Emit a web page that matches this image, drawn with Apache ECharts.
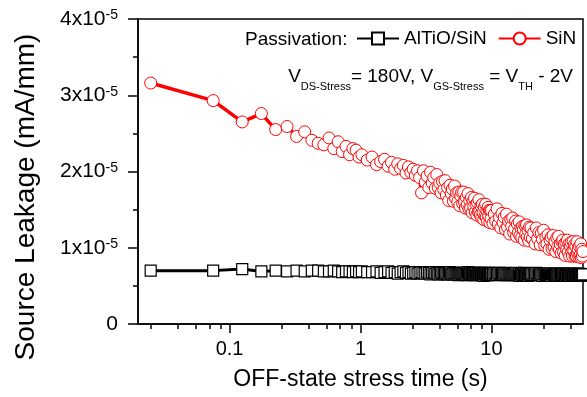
<!DOCTYPE html>
<html><head><meta charset="utf-8">
<script src="https://cdn.jsdelivr.net/npm/echarts@6/dist/echarts.min.js"></script>
<style>html,body{margin:0;padding:0;background:#fff}#c{width:587px;height:397px}</style>
</head><body><div id="c"></div>
<script>
const FONT = '"Liberation Sans", Arial, Helvetica, sans-serif';

// OFF-state stress time (s)
const timeS = [
  0.025,0.075,0.125,0.175,0.225,0.275,0.325,0.375,0.425,0.475,0.525,0.575,0.625,0.675,0.725,0.775,0.825,0.875,0.925,0.975,
  1.025,1.125,1.225,1.325,1.425,1.525,1.625,1.725,1.825,1.925,2.025,2.125,2.225,2.325,2.425,2.525,2.625,2.725,2.825,2.925,
  3.025,3.125,3.225,3.325,3.425,3.525,3.625,3.725,3.825,3.925,4.025,4.125,4.225,4.325,4.425,4.525,4.625,4.725,4.825,4.925,
  5.025,5.125,5.225,5.325,5.425,5.525,5.625,5.725,5.825,5.925,6.025,6.125,6.225,6.325,6.425,6.525,6.625,6.725,6.825,6.925,
  7.025,7.125,7.225,7.325,7.425,7.525,7.625,7.725,7.825,7.925,8.025,8.125,8.225,8.325,8.425,8.525,8.625,8.725,8.825,8.925,
  9.025,9.125,9.225,9.325,9.425,9.525,9.625,9.725,9.825,9.925,
  10.025,10.275,10.525,10.775,11.025,11.275,11.525,11.775,12.025,12.275,12.525,12.775,13.025,13.275,13.525,13.775,14.025,14.275,14.525,14.775,
  15.025,15.275,15.525,15.775,16.025,16.275,16.525,16.775,17.025,17.275,17.525,17.775,18.025,18.275,18.525,18.775,19.025,19.275,19.525,19.775,
  20.025,20.525,21.025,21.525,22.025,22.525,23.025,23.525,24.025,24.525,25.025,25.525,26.025,26.525,27.025,27.525,28.025,28.525,29.025,29.525,
  30.025,30.525,31.025,31.525,32.025,32.525,33.025,33.525,34.025,34.525,35.025,35.525,36.025,36.525,37.025,37.525,38.025,38.525,39.025,39.525,
  40.025,40.525,41.025,41.525,42.025,42.525,43.025,43.525,44.025,44.525,45.025,45.525,46.025,46.525,47.025,47.525,48.025,48.525,49.025,49.525,
  49.975
];

// Source leakage, in units of 1e-5 mA/mm
const altioSinLeak = [
  0.70,0.70,0.72,0.69,0.70,0.69,0.70,0.69,0.70,0.70,0.69,0.69,0.70,0.69,0.68,0.69,0.69,0.68,0.69,0.68,
  0.69,0.68,0.68,0.69,0.67,0.68,0.69,0.67,0.68,0.66,0.68,0.69,0.67,0.68,0.66,0.67,0.68,0.66,0.67,0.68,
  0.67,0.66,0.68,0.67,0.65,0.67,0.68,0.66,0.67,0.65,0.66,0.68,0.67,0.65,0.66,0.67,0.65,0.66,0.68,0.66,
  0.65,0.67,0.66,0.65,0.67,0.66,0.64,0.66,0.67,0.65,0.66,0.67,0.65,0.66,0.64,0.66,0.68,0.66,0.65,0.67,
  0.66,0.64,0.65,0.67,0.66,0.65,0.67,0.64,0.66,0.65,0.67,0.66,0.64,0.65,0.67,0.66,0.65,0.63,0.66,0.65,
  0.67,0.65,0.64,0.66,0.65,0.67,0.64,0.66,0.65,0.66,
  0.66,0.65,0.67,0.66,0.64,0.66,0.67,0.65,0.66,0.64,0.65,0.67,0.66,0.64,0.65,0.66,0.64,0.66,0.65,0.64,
  0.66,0.65,0.67,0.64,0.65,0.66,0.63,0.65,0.66,0.64,0.65,0.67,0.65,0.64,0.66,0.65,0.63,0.65,0.66,0.64,
  0.65,0.66,0.64,0.65,0.67,0.65,0.64,0.66,0.65,0.63,0.65,0.66,0.64,0.65,0.66,0.64,0.65,0.63,0.65,0.66,
  0.64,0.65,0.64,0.66,0.65,0.63,0.65,0.64,0.66,0.65,0.64,0.66,0.65,0.63,0.65,0.64,0.66,0.65,0.64,0.63,
  0.65,0.66,0.64,0.65,0.63,0.65,0.64,0.66,0.64,0.65,0.63,0.65,0.64,0.66,0.65,0.64,0.63,0.65,0.64,0.65,
  0.65
];
const sinLeak = [
  3.16,2.93,2.65,2.76,2.55,2.59,2.46,2.52,2.41,2.37,2.35,2.44,2.30,2.39,2.26,2.33,2.22,2.30,2.28,2.19,
  2.22,2.15,2.19,2.09,2.13,2.16,2.07,2.12,2.03,2.10,2.04,2.08,1.98,2.06,1.99,2.03,1.95,2.01,1.92,1.72,
  2.01,1.86,1.94,1.79,1.99,1.85,1.92,1.78,1.96,1.79,1.85,1.72,1.87,1.76,1.88,1.69,1.79,1.62,1.82,1.71,
  1.77,1.61,1.81,1.65,1.72,1.60,1.73,1.55,1.68,1.73,1.58,1.73,1.60,1.52,1.66,1.56,1.71,1.51,1.62,1.52,
  1.66,1.46,1.61,1.54,1.65,1.47,1.57,1.43,1.59,1.47,1.63,1.48,1.43,1.55,1.39,1.57,1.46,1.37,1.53,1.42,
  1.57,1.40,1.49,1.35,1.53,1.42,1.49,1.33,1.49,1.38,
  1.49,1.32,1.44,1.35,1.51,1.31,1.40,1.26,1.45,1.33,1.40,1.24,1.44,1.27,1.35,1.18,1.37,1.28,1.39,1.20,
  1.25,1.35,1.15,1.31,1.20,1.34,1.16,1.26,1.13,1.28,1.24,1.10,1.29,1.18,1.30,1.14,1.23,1.09,1.27,1.14,
  1.26,1.12,1.20,1.05,1.26,1.12,1.20,1.04,1.19,1.11,1.23,1.03,1.14,1.05,1.17,0.98,1.10,1.14,0.99,1.16,
  1.01,1.08,0.95,1.13,1.01,1.15,0.98,1.05,0.93,1.08,1.10,0.94,1.05,0.90,1.07,0.98,1.10,0.94,1.05,0.89,
  1.02,1.07,0.94,0.89,1.08,0.96,1.04,0.89,1.02,0.89,1.08,0.93,0.98,0.88,1.02,0.90,1.05,0.87,0.98,0.89,
  0.95
];

const xMajorTicks = [0.1, 1, 10];
const xMinorTicks = [0.025,0.04,0.055,0.07,0.085,0.25,0.4,0.55,0.7,0.85,2.5,4,5.5,7,8.5,25,40];
const yExponent = -5;

const pair = ys => timeS.map((t, i) => [t, ys[i]]);

const chart = echarts.init(document.getElementById('c'), null, {renderer: 'canvas'});
const option = {
  animation: false,
  textStyle: {fontFamily: FONT},
  grid: {left: 138, right: 4, top: 19, bottom: 73, show: true, borderColor: '#000', borderWidth: 1.5, backgroundColor: 'transparent'},
  xAxis: [{
    type: 'log', logBase: 10, min: 0.02, max: 50,
    name: 'OFF-state stress time (s)', nameLocation: 'middle', nameGap: 44,
    nameTextStyle: {fontSize: 23, color: '#000', fontFamily: FONT},
    axisLine: {lineStyle: {color: '#000', width: 1.5}},
    axisTick: {customValues: xMajorTicks, length: 9, lineStyle: {color: '#000', width: 1.5}},
    axisLabel: {customValues: xMajorTicks, fontSize: 20, color: '#000', margin: 15, fontFamily: FONT,
      formatter: v => String(Number(v.toPrecision(6)))},
    splitLine: {show: false}, minorTick: {show: false}
  }, {
    type: 'log', logBase: 10, min: 0.02, max: 50, position: 'bottom', offset: 0,
    axisLine: {show: false},
    axisTick: {customValues: xMinorTicks, length: 5, lineStyle: {color: '#000', width: 1.5}},
    axisLabel: {show: false}, splitLine: {show: false}
  }],
  yAxis: {
    type: 'value', min: 0, max: 4, interval: 1,
    axisLine: {show: true, lineStyle: {color: '#000', width: 1.5}},
    axisTick: {show: true, length: 10, lineStyle: {color: '#000', width: 1.5}},
    minorTick: {show: true, splitNumber: 2, length: 5, lineStyle: {color: '#000', width: 1.5}},
    splitLine: {show: false}, minorSplitLine: {show: false},
    axisLabel: {
      margin: 20, color: '#000',
      formatter: v => v === 0 ? '{z|0}' : '{b|' + Math.round(v) + 'x10}{s|' + yExponent + '}',
      rich: {
        b: {fontSize: 21, lineHeight: 21, verticalAlign: 'top', color: '#000', fontFamily: FONT},
        s: {fontSize: 14, lineHeight: 14, verticalAlign: 'top', color: '#000', fontFamily: FONT},
        z: {fontSize: 21, lineHeight: 21, color: '#000', fontFamily: FONT}
      }
    }
  },
  legend: {
    data: ['AlTiO/SiN', 'SiN'], left: 356, top: 29, itemWidth: 42, itemHeight: 15, itemGap: 11, padding: 0,
    textStyle: {fontSize: 19, color: '#000', fontFamily: FONT, padding: [8, 0, 0, 0]},
    selectedMode: false
  },
  graphic: [{
    type: 'text', left: 245, top: 29, silent: true,
    style: {text: 'Passivation:', fontSize: 19, fill: '#000', fontFamily: FONT, lineHeight: 22}
  }, {
    type: 'text', right: 14, top: 67, silent: true,
    style: {
      text: '{m|V}{sub|DS-Stress}{m|= 180V, V}{sub|GS-Stress}{m| = V}{sub|TH}{m| - 2V}',
      rich: {
        m: {fontSize: 19, lineHeight: 19, verticalAlign: 'top', fill: '#000', fontFamily: FONT},
        sub: {fontSize: 11, lineHeight: 12, verticalAlign: 'top', padding: [14, 0, 0, 0], fill: '#000', fontFamily: FONT}
      }
    }
  }, {
    type: 'text', x: 26, y: 197, rotation: Math.PI / 2, silent: true,
    style: {text: 'Source Leakage (mA/mm)', fontSize: 28, fill: '#000', fontFamily: FONT, align: 'center', verticalAlign: 'middle'}
  }],
  series: [{
    name: 'AlTiO/SiN', type: 'line', xAxisIndex: 0, data: pair(altioSinLeak),
    symbol: 'rect', symbolSize: 11, showAllSymbol: true,
    lineStyle: {color: '#000', width: 3},
    itemStyle: {color: '#fff', borderColor: '#000', borderWidth: 1.2},
    emphasis: {disabled: true}, z: 2
  }, {
    name: 'SiN', type: 'line', xAxisIndex: 0, data: pair(sinLeak),
    symbol: 'circle', symbolSize: 12, showAllSymbol: true,
    lineStyle: {color: '#ff0000', width: 3.5},
    itemStyle: {color: '#fff', borderColor: '#ff0000', borderWidth: 1},
    emphasis: {disabled: true}, z: 3
  }]
};
chart.setOption(option);
</script>
</body></html>
